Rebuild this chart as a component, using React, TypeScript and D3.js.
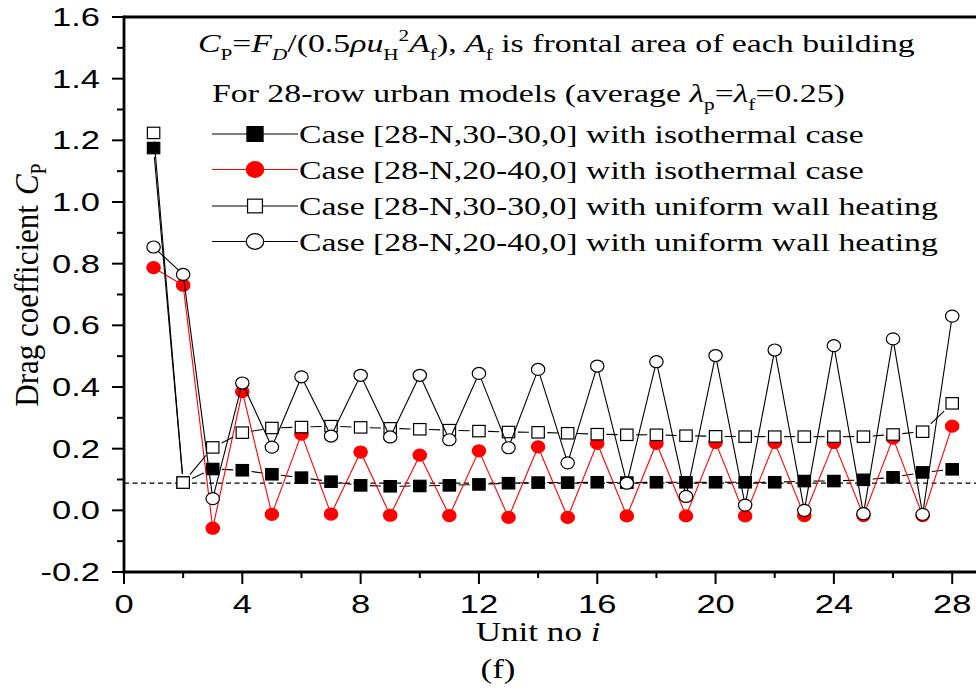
import React from "react";
import * as d3 from "d3";

// Drag coefficient per unit row (i = 1..28)
const units = d3.range(1, 29);

const isoSquare = [1.175, 0.09, 0.134, 0.13, 0.117, 0.106, 0.093, 0.081, 0.078, 0.079, 0.081, 0.084, 0.088, 0.09,
  0.09, 0.091, 0.09, 0.091, 0.091, 0.091, 0.091, 0.091, 0.095, 0.095, 0.099, 0.107, 0.123, 0.133];
const isoStagger = [0.787, 0.73, -0.058, 0.385, -0.013, 0.247, -0.012, 0.189, -0.016, 0.179, -0.017, 0.193, -0.023, 0.206,
  -0.023, 0.217, -0.018, 0.217, -0.018, 0.22, -0.018, 0.22, -0.017, 0.22, -0.017, 0.234, -0.017, 0.273];
const heatSquare = [1.224, 0.09, 0.204, 0.252, 0.267, 0.27, 0.273, 0.269, 0.266, 0.263, 0.26, 0.257, 0.254, 0.253,
  0.25, 0.247, 0.245, 0.245, 0.242, 0.24, 0.239, 0.239, 0.239, 0.239, 0.239, 0.246, 0.255, 0.347];
const heatStagger = [0.854, 0.765, 0.038, 0.413, 0.205, 0.433, 0.241, 0.438, 0.238, 0.438, 0.229, 0.444, 0.203, 0.457,
  0.154, 0.468, 0.088, 0.482, 0.045, 0.502, 0.017, 0.52, 0.0, 0.534, -0.011, 0.556, -0.013, 0.63];

const legendLabels = [
  "Case [28-N,30-30,0] with isothermal case",
  "Case [28-N,20-40,0] with isothermal case",
  "Case [28-N,30-30,0] with uniform wall heating",
  "Case [28-N,20-40,0] with uniform wall heating",
];

const referenceLevel = 0.088;
const yTickValues = [-0.2, 0, 0.2, 0.4, 0.6, 0.8, 1.0, 1.2, 1.4, 1.6];
const yMinorValues = [-0.1, 0.1, 0.3, 0.5, 0.7, 0.9, 1.1, 1.3, 1.5];
const xTickValues = [0, 4, 8, 12, 16, 20, 24, 28];
const xMinorValues = [2, 6, 10, 14, 18, 22, 26];

const SERIF = "'Liberation Serif', 'Times New Roman', serif";
const SANS = "'Liberation Sans', Arial, sans-serif";
const RED = "#ff0000";
const SERIF_SX = 1.325;
const SANS_SX = 1.38;

type Shape = "square" | "circle";
interface Series {
  values: number[];
  shape: Shape;
  fill: string;
  stroke: string;
  line: string;
}

const seriesList: Series[] = [
  { values: isoSquare, shape: "square", fill: "#000", stroke: "#000", line: "#000" },
  { values: isoStagger, shape: "circle", fill: RED, stroke: RED, line: RED },
  { values: heatSquare, shape: "square", fill: "#fff", stroke: "#000", line: "#000" },
  { values: heatStagger, shape: "circle", fill: "#fff", stroke: "#000", line: "#000" },
];

const x = d3.scaleLinear().domain([0, 28]).range([124, 952.2]);
const y = d3.scaleLinear().domain([-0.2, 1.6]).range([572, 17]);
const fmtY = (v: number) => d3.format(".1f")(v).replace("\u2212", "-");

const SQ_HW = 6.2;
const SQ_HH = 5.7;
const C_RX = 6.7;
const C_RY = 6;

// distance from marker centre to where the connecting line should stop
function exitDist(shape: Shape, ux: number, uy: number) {
  if (shape === "square") {
    const a = Math.abs(ux) > 1e-6 ? SQ_HW / Math.abs(ux) : Infinity;
    const b = Math.abs(uy) > 1e-6 ? SQ_HH / Math.abs(uy) : Infinity;
    return Math.min(a, b) + 3;
  }
  return 1 / Math.sqrt((ux / C_RX) ** 2 + (uy / C_RY) ** 2);
}

function Marker({ s, cx, cy, scale = 1 }: { s: Series; cx: number; cy: number; scale?: number }) {
  if (s.shape === "square") {
    const hw = SQ_HW * scale;
    const hh = SQ_HH * scale;
    return <rect x={cx - hw} y={cy - hh} width={hw * 2} height={hh * 2} fill={s.fill} stroke={s.stroke} strokeWidth={1.2} />;
  }
  return <ellipse cx={cx} cy={cy} rx={C_RX * scale} ry={C_RY * scale} fill={s.fill} stroke={s.stroke} strokeWidth={1.2} />;
}

function SeriesPlot({ s }: { s: Series }) {
  const pts = s.values.map((v, k) => [x(units[k]), y(v)] as [number, number]);
  const segs = pts.slice(1).map((p, k) => {
    const a = pts[k];
    const dx = p[0] - a[0];
    const dy = p[1] - a[1];
    const len = Math.hypot(dx, dy);
    const ux = dx / len;
    const uy = dy / len;
    const d = exitDist(s.shape, ux, uy);
    if (len <= 2 * d) return null;
    return (
      <line key={k} x1={a[0] + ux * d} y1={a[1] + uy * d} x2={p[0] - ux * d} y2={p[1] - uy * d}
        stroke={s.line} strokeWidth={1.1} />
    );
  });
  return (
    <g>
      {segs}
      {pts.map((p, k) => <Marker key={k} s={s} cx={p[0]} cy={p[1]} />)}
    </g>
  );
}

function Stretched({ tx, ty, sx, children }: { tx: number; ty: number; sx: number; children: React.ReactNode }) {
  return <g transform={`translate(${tx},${ty}) scale(${sx},1)`}>{children}</g>;
}

export default function App() {
  const legendBaselines = [143, 178.5, 215, 250.5];
  return (
    <svg width={976} height={690} style={{ position: "absolute", left: 0, top: 0, background: "#fff" }}>
      <rect x={0} y={0} width={976} height={690} fill="#fff" />

      {/* reference level */}
      <line x1={x(0)} x2={976} y1={y(referenceLevel)} y2={y(referenceLevel)} stroke="#000" strokeWidth={1.2} strokeDasharray="5,3.5" />

      {seriesList.map((s, i) => <SeriesPlot key={i} s={s} />)}

      {/* axes frame */}
      <line x1={x(0)} x2={976} y1={17} y2={17} stroke="#000" strokeWidth={3} />
      <line x1={x(0) - 1.4} x2={976} y1={572} y2={572} stroke="#000" strokeWidth={3} />
      <line x1={x(0)} x2={x(0)} y1={15.5} y2={573.5} stroke="#000" strokeWidth={2.8} />

      {/* y ticks */}
      {yTickValues.map((v) => (
        <g key={v}>
          <line x1={112} x2={x(0)} y1={y(v)} y2={y(v)} stroke="#000" strokeWidth={2} />
          <Stretched tx={100} ty={y(v) + 9} sx={SANS_SX}>
            <text textAnchor="end" fontFamily={SANS} fontSize={25} fill="#000">{fmtY(v)}</text>
          </Stretched>
        </g>
      ))}
      {yMinorValues.map((v) => (
        <line key={v} x1={117} x2={x(0)} y1={y(v)} y2={y(v)} stroke="#000" strokeWidth={2} />
      ))}

      {/* x ticks */}
      {xTickValues.map((v) => (
        <g key={v}>
          <line x1={x(v)} x2={x(v)} y1={572} y2={584} stroke="#000" strokeWidth={2} />
          <Stretched tx={x(v)} ty={613} sx={SANS_SX}>
            <text textAnchor="middle" fontFamily={SANS} fontSize={25} fill="#000">{v}</text>
          </Stretched>
        </g>
      ))}
      {xMinorValues.map((v) => (
        <line key={v} x1={x(v)} x2={x(v)} y1={572} y2={578} stroke="#000" strokeWidth={2} />
      ))}

      {/* axis titles */}
      <Stretched tx={x(14)} ty={641} sx={1.3}>
        <text textAnchor="middle" fontFamily={SERIF} fontSize={27} fill="#000">
          Unit no <tspan fontStyle="italic">i</tspan>
        </text>
      </Stretched>
      <Stretched tx={498} ty={678} sx={1.3}>
        <text textAnchor="middle" fontFamily={SERIF} fontSize={27} fill="#000">(f)</text>
      </Stretched>
      <g transform="translate(38,285) rotate(-90) scale(1,1.12)">
        <text textAnchor="middle" fontFamily={SERIF} fontSize={31} fill="#000">
          Drag coefficient
          <tspan dx={10} fontStyle="italic">C</tspan>
          <tspan fontSize={20} dy={7}>P</tspan>
        </text>
      </g>

      {/* definition and legend */}
      <Stretched tx={198} ty={52} sx={SERIF_SX}>
        <text fontFamily={SERIF} fontSize={25.5} fill="#000" style={{ whiteSpace: "pre" }}>
          <tspan fontStyle="italic">C</tspan>
          <tspan fontSize={16} dy={8}>P</tspan>
          <tspan dy={-8}>=</tspan>
          <tspan fontStyle="italic">F</tspan>
          <tspan fontStyle="italic" fontSize={16} dy={8}>D</tspan>
          <tspan dy={-8}>/(0.5</tspan>
          <tspan fontStyle="italic">{"\u03c1u"}</tspan>
          <tspan fontSize={16} dy={8}>H</tspan>
          <tspan fontSize={16} dy={-19}>2</tspan>
          <tspan fontStyle="italic" dy={11}>A</tspan>
          <tspan fontSize={16} dy={8}>f</tspan>
          <tspan dy={-8}>{"), "}</tspan>
          <tspan fontStyle="italic">A</tspan>
          <tspan fontSize={16} dy={8}>f</tspan>
          <tspan dy={-8}>{" is frontal area of each building"}</tspan>
        </text>
      </Stretched>
      <Stretched tx={212} ty={102} sx={SERIF_SX}>
        <text fontFamily={SERIF} fontSize={25.5} fill="#000" style={{ whiteSpace: "pre" }}>
          <tspan>{"For 28-row urban models (average "}</tspan>
          <tspan fontStyle="italic">{"\u03bb"}</tspan>
          <tspan fontSize={16} dy={8}>p</tspan>
          <tspan dy={-8}>=</tspan>
          <tspan fontStyle="italic">{"\u03bb"}</tspan>
          <tspan fontSize={16} dy={8}>f</tspan>
          <tspan dy={-8}>=0.25)</tspan>
        </text>
      </Stretched>

      {seriesList.map((s, i) => {
        const by = legendBaselines[i];
        const ly = by - 9;
        return (
          <g key={i}>
            <line x1={212} x2={298} y1={ly} y2={ly} stroke={s.line} strokeWidth={1.2} />
            <Marker s={s} cx={255} cy={ly} scale={s.shape === "square" && s.fill === "#fff" ? 1.2 : 1.3} />
            <Stretched tx={299} ty={by} sx={SERIF_SX}>
              <text fontFamily={SERIF} fontSize={25.5} fill="#000">{legendLabels[i]}</text>
            </Stretched>
          </g>
        );
      })}
    </svg>
  );
}
